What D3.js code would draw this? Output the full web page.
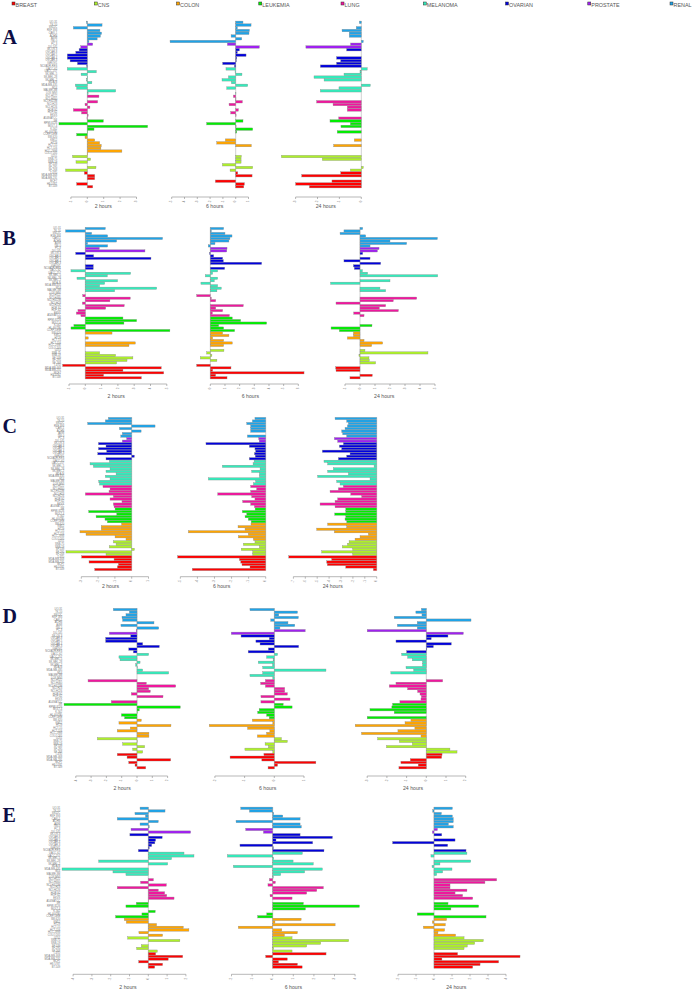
<!DOCTYPE html>
<html><head><meta charset="utf-8">
<script src="https://cdn.jsdelivr.net/npm/d3@7"></script>
<style>html,body{margin:0;padding:0;background:#fff;}svg{display:block;}</style>
</head><body>
<svg id="chart" width="692" height="992"></svg>
<script>
// ---------- data ----------
const tissues = ["BREAST","CNS","COLON","LEUKEMIA","LUNG","MELANOMA","OVARIAN","PROSTATE","RENAL"];
const tissueColors = ["#ff0000","#adf02a","#ffa500","#00ee00","#f0169e","#33ebbb","#0000dd","#a020f0","#1ea3e8"];
const panelLetters = ["A","B","C","D","E"];
const timeLabels = ["2 hours","6 hours","24 hours"];
const cellLines = ["UO-31","TK-10","SN12C","RXF 393","CAKI-1","ACHN","A498","786-0",
 "PC-3","DU-145",
 "SK-OV-3","OVCAR-8","OVCAR-5","OVCAR-4","OVCAR-3","IGROV1","NCI/ADR-RES",
 "UACC-62","UACC-257","SK-MEL-5","SK-MEL-28","SK-MEL-2","MDA-N","MDA-MB-435","M14","MALME-3M","LOX IMVI",
 "NCI-H522","NCI-H460","NCI-H322M","NCI-H23","NCI-H226","HOP-92","HOP-62","EKVX","A549/ATCC",
 "SR","RPMI-8226","MOLT-4","K-562","HL-60(TB)","CCRF-CEM",
 "SW-620","KM12","HT29","HCT-15","HCT-116","HCC-2998","COLO 205",
 "U251","SNB-75","SNB-19","SF-539","SF-295","SF-268",
 "T-47D","MDA-MB-468","MDA-MB-231","MCF7","HS 578T","BT-549"];
const cellTissue = ["RENAL","RENAL","RENAL","RENAL","RENAL","RENAL","RENAL","RENAL",
 "PROSTATE","PROSTATE",
 "OVARIAN","OVARIAN","OVARIAN","OVARIAN","OVARIAN","OVARIAN","OVARIAN",
 "MELANOMA","MELANOMA","MELANOMA","MELANOMA","MELANOMA","MELANOMA","MELANOMA","MELANOMA","MELANOMA","MELANOMA",
 "LUNG","LUNG","LUNG","LUNG","LUNG","LUNG","LUNG","LUNG","LUNG",
 "LEUKEMIA","LEUKEMIA","LEUKEMIA","LEUKEMIA","LEUKEMIA","LEUKEMIA",
 "COLON","COLON","COLON","COLON","COLON","COLON","COLON",
 "CNS","CNS","CNS","CNS","CNS","CNS",
 "BREAST","BREAST","BREAST","BREAST","BREAST","BREAST"];

const A_2h = [-0.05,0.9,-0.85,0.77,0.87,0.8,0.6,0.1, 0.33,-0.4,
 -0.5,-0.7,-1.22,-1.22,-1.05,-0.6,-0.03,
 -1.22,0.55,-0.38,0.03,-0.05,0.28,-0.73,-0.65,1.73,0.05,
 0.71,0.0,0.63,-0.14,0.16,-0.85,-0.35,0.05,-0.02,
 0.98,-1.73,3.68,0.41,0.02,-0.65,
 -0.14,0.45,0.75,0.85,0.83,2.11,0.03,
 -0.9,0.2,-0.69,0.0,0.53,-1.32,
 -0.18,0.45,0.45,0.0,-0.65,0.33];
const A_6h = [0.57,1.2,0.13,1.07,1.04,-0.36,0.47,-5.13, -0.65,1.85,
 0.29,0.13,0.81,0.08,0.05,-1.02,-0.1,
 -0.76,-0.05,0.49,-0.57,-1.07,-0.34,0.94,-0.7,0.0,0.02,
 -0.18,0.02,0.52,-0.52,0.0,0.21,-0.39,0.03,0.0,
 0.57,-2.27,0.03,1.33,0.08,0.0,
 0.0,-0.81,-1.48,1.22,0.0,0.0,0.0,
 0.44,0.42,0.42,-1.04,1.33,-0.44,
 0.16,1.28,0.0,-1.59,0.68,0.63];
const A_24h = [-0.09,0.0,-0.23,-0.88,-0.55,-0.55,0.0,0.09, -0.49,-2.53,
 -0.67,0.0,0.0,-1.13,-0.94,-1.13,-1.87,
 0.27,-0.06,-0.79,-2.16,-1.7,0.0,0.41,-1.02,-1.87,0.0,
 0.0,0.0,-2.04,-1.29,-0.64,-0.64,0.0,0.0,-1.03,
 -1.43,-0.5,-0.93,0.0,-1.1,0.0,
 0.0,-0.32,0.0,-1.26,0.0,0.0,0.0,
 -3.65,-1.78,0.0,0.0,0.09,-0.5,
 -0.94,-2.72,0.0,-1.34,-3.0,-2.37];

const B_2h = [1.23,-1.21,0.39,1.37,4.74,1.92,0.14,1.37, 0.86,3.66,
 -0.59,0.51,4.03,0.0,0.0,0.49,0.49,
 -0.88,2.78,1.35,-0.51,1.98,1.19,0.88,4.38,1.8,0.0,
 -0.16,2.76,1.51,-0.18,2.39,1.25,-0.45,-0.55,-0.27,
 2.31,3.15,2.37,-0.7,-0.88,5.19,
 1.64,0.0,0.18,0.0,3.07,2.68,0.0,
 0.0,0.88,1.86,2.92,2.56,1.92,
 -1.39,4.66,2.31,4.81,1.12,3.44];
const B_6h = [0.91,0.07,1.0,1.48,1.34,1.27,0.32,-0.14, 1.14,1.12,
 -0.05,0.23,0.84,0.89,3.5,0.0,0.98,
 0.5,0.16,-0.34,0.5,0.27,-0.64,0.5,0.75,0.45,0.0,
 -0.93,0.07,0.37,0.0,2.25,0.37,0.84,0.14,1.3,
 1.5,2.07,3.84,0.57,0.91,1.66,
 0.84,1.27,0.16,0.91,1.5,0.91,0.0,
 0.93,-0.25,0.11,-0.68,0.45,0.0,
 -0.93,1.41,0.16,6.39,0.36,1.14];
const B_24h = [0.18,-1.07,-1.33,0.38,5.16,2.0,3.11,0.67, 1.27,1.16,
 0.18,0.0,0.67,-1.07,1.38,-0.44,-0.38,
 0.16,0.51,5.18,0.0,2.0,-1.96,0.0,1.33,1.71,0.0,
 0.0,3.78,2.22,-1.6,1.71,1.29,2.56,-0.42,0.27,
 0.0,0.0,0.0,0.8,-1.93,-1.38,
 -0.44,-0.44,-0.84,0.27,1.51,0.78,0.0,
 0.33,4.53,-0.07,0.6,0.62,1.04,
 0.0,-1.62,-1.6,0.0,0.82,-0.67];

const C_2h = [-1.39,-1.57,-2.62,1.39,-0.73,0.56,-0.56,-0.65, -0.3,-0.56,
 -1.98,-1.53,-1.98,-1.49,-2.02,0.16,-1.53,
 -1.33,-2.48,-2.28,-1.29,-1.53,-0.93,-1.57,-1.29,-1.96,-1.92,
 -1.71,-1.29,-1.35,-2.76,-1.09,-1.29,-0.58,-1.09,-1.05,
 -0.99,-2.56,-0.89,-2.12,-1.59,-1.45,
 -0.6,-1.81,-1.81,-3.08,-2.72,-0.99,-0.34,
 -1.09,-0.93,-1.33,0.16,-3.91,-1.53,
 -2.98,-1.05,-2.54,-0.79,-0.85,-2.2];
const C_6h = [-0.63,-0.78,-1.11,-0.88,-0.88,-0.88,0.0,-1.07, -0.41,-0.38,
 -3.5,-0.96,-0.63,-0.59,-0.66,-0.61,-0.96,
 -0.68,-0.74,-2.54,-0.33,-0.82,-0.37,-0.37,-3.36,-0.59,-0.72,
 -0.88,-0.53,-0.88,-2.81,-0.82,-0.63,-1.35,-0.88,-0.66,
 -0.62,-1.37,-1.11,-1.21,-1.02,-0.85,
 -0.86,-1.62,-1.21,-4.53,-1.02,-1.6,-0.72,
 -0.63,-1.31,-0.37,-1.43,-0.76,-0.76,
 -5.16,-1.54,-1.46,-1.39,-0.92,-4.3];
const C_24h = [-3.5,-2.52,-2.38,-2.46,-2.66,-2.94,-2.86,-2.52, -3.56,-3.28,
 -2.8,-3.14,-2.94,-4.57,-2.24,-2.52,-3.22,
 -4.43,-4.12,-0.22,-3.64,-4.12,-2.38,-4.96,-0.56,-3.36,-3.08,
 -2.8,-3.22,-3.92,-2.18,-1.26,-3.28,-3.5,-4.76,-3.5,
 -2.6,-2.6,-3.53,-2.6,-2.66,-2.52,
 -4.12,-2.52,-5.04,-3.56,-0.7,-1.4,-1.82,
 -2.32,-2.46,-2.89,-2.02,-4.62,-2.02,
 -7.39,-3.78,-4.2,-4.15,-2.6,-0.28];

const D_2h = [-1.55,-0.5,-0.72,-0.98,-0.94,1.11,-1.05,1.42, -0.05,-1.81,
 -0.41,-2.05,-2.05,0.37,1.46,-0.54,-0.24,
 0.76,-1.18,-1.11,0.2,-0.09,0.03,0.37,2.07,0.0,0.0,
 -3.2,0.61,2.53,0.76,0.87,-0.37,1.7,0.0,-1.68,
 -4.77,2.83,0.15,0.02,-1.02,-0.81,
 0.28,-1.18,2.22,-0.44,-1.29,0.78,0.78,
 -2.59,0.02,-0.94,0.5,-0.28,0.37,
 -1.29,-0.65,2.2,-0.54,-0.13,0.57];
const D_6h = [-0.82,0.78,0.15,0.81,-0.12,0.46,0.69,0.19, 1.04,-1.45,
 -1.12,-0.17,-0.62,-0.48,0.82,-0.2,-0.88,
 0.11,-0.26,-0.04,-0.54,-0.06,-0.39,1.74,-0.39,-0.82,-0.05,
 -0.3,-0.46,-0.3,0.35,0.35,0.44,-0.45,0.53,-0.45,
 0.3,0.6,-0.51,-0.56,-0.26,-0.17,
 -0.74,-0.05,-2.19,-0.9,-0.15,-0.26,-0.57,
 0.24,0.44,-0.31,-0.2,-0.99,-0.05,
 -0.35,-1.49,-0.42,1.4,0.11,-0.21];
const D_24h = [-0.25,-0.53,-0.22,-1.63,2.27,-0.46,-1.47,-0.46, -3.0,1.88,
 1.1,0.25,-1.54,1.27,0.36,0.03,-1.0,
 -1.25,-0.95,-0.71,-0.19,-0.19,-1.03,-0.64,-1.8,0.0,0.0,
 0.83,-1.54,-1.88,-0.95,-0.44,-0.32,-0.25,-0.27,-1.34,
 -1.71,-1.75,-2.86,-1.63,0.0,-3.0,
 -0.78,-1.08,-3.61,-0.58,-1.44,-3.29,-0.27,
 -2.47,-1.37,-0.71,-2.02,1.2,1.56,
 0.8,0.78,-0.81,-1.29,-0.41,-1.39];

const E_2h = [-0.44,0.89,-0.71,-0.15,-1.65,0.53,-0.44,0.05, -0.92,2.25,
 -0.98,0.74,0.39,0.35,0.18,0.05,-0.53,
 1.9,2.43,1.24,-2.64,1.03,0.0,-4.59,-1.88,-1.19,0.0,
 0.27,-0.41,0.96,-1.65,0.53,0.87,0.98,1.37,0.02,
 -0.64,-1.19,0.0,0.37,-0.34,-1.74,
 -1.28,-1.17,0.44,1.86,2.16,-0.5,0.76,
 -1.1,1.68,0.0,-0.37,-0.62,0.48,
 0.39,1.83,1.06,-0.51,0.76,0.34];
const E_6h = [-1.55,-1.13,0.05,0.49,1.33,-1.78,1.33,1.39, -1.31,-0.45,
 1.33,2.9,0.16,1.94,-1.59,0.03,2.49,
 1.44,-2.2,0.05,0.99,1.97,-1.91,2.41,1.55,0.39,0.03,
 -0.16,0.13,-0.23,2.46,2.14,1.65,-0.13,0.94,0.0,
 1.49,4.21,1.59,0.0,-0.29,-0.73,
 1.38,0.11,3.03,-1.67,0.44,1.2,0.57,
 0.94,3.69,2.33,1.65,0.05,0.94,
 2.59,-0.34,0.71,0.28,1.2,1.43];
const E_24h = [1.02,-0.07,0.41,1.02,1.07,1.07,0.8,1.07, 0.19,-0.09,
 0.43,0.0,1.17,-2.3,0.76,0.0,1.78,
 1.83,-0.17,0.0,2.04,0.33,-0.11,1.0,0.48,0.15,0.0,
 3.48,2.83,0.89,0.89,1.83,1.17,1.59,2.15,0.0,
 0.78,2.48,0.94,0.0,-0.93,2.89,
 0.7,-0.09,0.63,-0.59,0.59,0.22,1.2,
 1.67,2.74,2.26,1.85,1.67,0.0,
 1.31,4.78,0.44,3.59,2.56,2.15];

// ---------- layout ----------
const seriesByPanel = {A:[A_2h,A_6h,A_24h], B:[B_2h,B_6h,B_24h], C:[C_2h,C_6h,C_24h], D:[D_2h,D_6h,D_24h], E:[E_2h,E_6h,E_24h]};
const layout = {
  A:{top:21, bottom:188, axisY:197, labelY:208, letterY:44, zeros:[87.3,235.7,361.3], units:[16.4,12.8,21.9]},
  B:{top:227.3, bottom:379, axisY:384, labelY:398, letterY:245, zeros:[85.3,210.3,360], units:[16.3,14.67,15]},
  C:{top:417.3, bottom:570.7, axisY:576.7, labelY:588, letterY:433, zeros:[131.7,265.7,376.7], units:[16.8,17.07,11.9]},
  D:{top:608.3, bottom:769, axisY:776, labelY:790, letterY:623, zeros:[137,274.3,426.3], units:[15.3,29.7,19.7]},
  E:{top:807, bottom:968.3, axisY:974.3, labelY:988.7, letterY:822, zeros:[148.3,272.7,434], units:[18.8,20.6,18]}
};

const color = d3.scaleOrdinal().domain(tissues).range(tissueColors);
const svg = d3.select("#chart");
svg.append("rect").attr("width",692).attr("height",992).attr("fill","#fff");

// legend
const legX = d3.scalePoint().domain(tissues).range([12, 670]);
const leg = svg.append("g").selectAll("g").data(tissues).join("g")
  .attr("transform", d => `translate(${legX(d)},2)`);
leg.append("rect").attr("width",3).attr("height",3).attr("fill", d => color(d))
  .attr("stroke","#333").attr("stroke-width",0.5);
leg.append("text").attr("x",3.6).attr("y",3.7).text(d => d)
  .attr("font-family","Liberation Sans, Arial, sans-serif").attr("font-size",5.4)
  .attr("fill","#555").attr("dominant-baseline","middle");

panelLetters.forEach(p => {
  const L = layout[p];
  const g = svg.append("g");
  g.append("text").attr("x",2.5).attr("y",L.letterY).text(p)
    .attr("font-family","Liberation Serif, Times New Roman, serif").attr("font-weight","bold")
    .attr("font-size",20).attr("fill","#0d0d45");
  const y = d3.scaleBand().domain(d3.range(cellLines.length)).range([L.top, L.bottom])
    .paddingInner(0.1).paddingOuter(0.03);

  seriesByPanel[p].forEach((vals, k) => {
    const lo = Math.min(0, d3.min(vals)), hi = Math.max(0, d3.max(vals));
    const z = L.zeros[k], u = L.units[k];
    const x = d3.scaleLinear().domain([lo, hi]).range([z + lo*u, z + hi*u]);
    const sg = g.append("g");
    // zero line
    sg.append("line").attr("x1",x(0)).attr("x2",x(0)).attr("y1",L.top).attr("y2",L.bottom)
      .attr("stroke","#a0a0a0").attr("stroke-width",0.5);
    // bars
    sg.selectAll("rect.bar").data(vals.map((v,i)=>({v,i})).filter(d => d.v !== 0)).join("rect")
      .attr("class","bar")
      .attr("x", d => x(Math.min(0,d.v)))
      .attr("width", d => Math.abs(x(d.v) - x(0)))
      .attr("y", d => y(d.i)).attr("height", y.bandwidth())
      .attr("fill", d => color(cellTissue[d.i]))
      .attr("stroke","#8a8a8a").attr("stroke-width",0.35);
    // row labels (first column only)
    if (k === 0) {
      sg.selectAll("text.rl").data(cellLines).join("text").attr("class","rl")
        .attr("x", x.range()[0] - 1.8).attr("y", (d,i) => y(i) + y.bandwidth()/2)
        .attr("text-anchor","end").attr("dominant-baseline","middle")
        .attr("font-family","Liberation Sans, Arial, sans-serif").attr("font-size",2.6)
        .attr("fill","#777").text(d => d);
    }
    // axis
    const ticks = d3.range(Math.ceil(lo), Math.floor(hi) + 1);
    const ax = sg.append("g").attr("transform",`translate(0,${L.axisY})`);
    ax.append("line").attr("x1", x(ticks[0])).attr("x2", x(ticks[ticks.length-1]))
      .attr("stroke","#888").attr("stroke-width",0.6);
    ax.selectAll("line.tk").data(ticks).join("line").attr("class","tk")
      .attr("x1", d => x(d)).attr("x2", d => x(d)).attr("y1",0).attr("y2",2)
      .attr("stroke","#888").attr("stroke-width",0.6);
    ax.selectAll("text").data(ticks).join("text")
      .attr("transform", d => `translate(${x(d)},3.5) rotate(-90)`)
      .attr("text-anchor","end").attr("dominant-baseline","middle")
      .attr("font-family","Liberation Sans, Arial, sans-serif").attr("font-size",3)
      .attr("fill","#777").text(d => d);
    sg.append("text").attr("x", (x.range()[0] + x.range()[1]) / 2).attr("y", L.labelY)
      .attr("text-anchor","middle").attr("font-family","Liberation Sans, Arial, sans-serif")
      .attr("font-size",5.2).attr("fill","#555").text(timeLabels[k]);
  });
});
</script>
</body></html>
